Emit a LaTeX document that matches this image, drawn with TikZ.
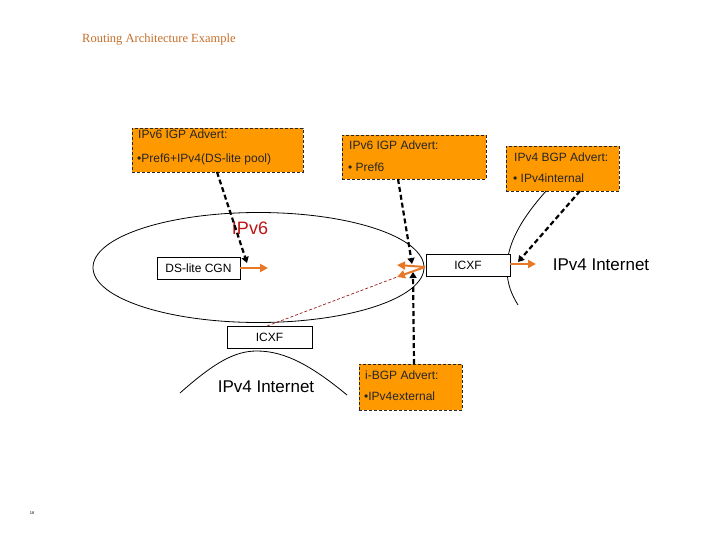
\documentclass[tikz,border=0pt]{standalone}
\usepackage{fontspec}
\setmainfont{Liberation Sans}
\newfontfamily\titlefont{Liberation Serif}
\usetikzlibrary{arrows.meta}
\definecolor{boxorange}{RGB}{255,153,0}
\definecolor{arrorange}{RGB}{230,120,40}
\definecolor{titleorange}{RGB}{196,110,40}
\definecolor{ipvred}{RGB}{190,20,20}
\definecolor{dashred}{RGB}{150,30,30}
\tikzset{
  obox/.style={draw=black!85, dashed, dash pattern=on 3pt off 2pt, line width=0.9pt, fill=boxorange, inner sep=0pt},
  wbox/.style={draw=black, line width=0.8pt, fill=white, inner sep=0pt, font=\fontsize{12}{14}\selectfont},
  btxt/.style={anchor=base west, inner sep=0pt, font=\fontsize{12}{14}\selectfont, text=black!85},
  advert/.style={draw=black, line width=2.2pt, dash pattern=on 5pt off 3pt, -{Triangle[width=7pt,length=6pt]}},
  oarrow/.style={draw=arrorange, line width=2pt, -{Triangle[width=8pt,length=8pt]}},
  thinline/.style={draw=black, line width=0.8pt},
}
\begin{document}
\begin{tikzpicture}[x=1pt,y=-1pt]
\useasboundingbox (0,0) rectangle (720,540);
% title
\node[anchor=west, inner sep=0pt, text=titleorange, font=\titlefont\fontsize{12.5}{14}\selectfont] (title) at (82,40) {Routing Architecture Example};
% domains
\draw[thinline] (258.5,267.5) ellipse [x radius=165.5, y radius=55];
\draw[thinline] (547,190) .. controls (520,220) and (507,245) .. (507,268) .. controls (507,285) and (512,295) .. (518,305);
\draw[thinline] (180,393) .. controls (215,362) and (235,351) .. (257,351) .. controls (285,351) and (312,366) .. (347,395);
% orange advert boxes
\node[obox, minimum width=171pt, minimum height=44pt] (b1) at (217.5,150) {};
\node[btxt] (b1a) at (138,139) {IPv6 IGP Advert:};
\node[btxt] (b1b) at (137,163) {•Pref6+IPv4(DS-lite pool)};
\node[obox, minimum width=144pt, minimum height=44pt] (b2) at (414,157) {};
\node[btxt] (b2a) at (349,150) {IPv6 IGP Advert:};
\node[btxt] (b2b) at (348,172) {• Pref6};
\node[obox, minimum width=113pt, minimum height=45pt] (b3) at (562.5,168.5) {};
\node[btxt] (b3a) at (514,162) {IPv4 BGP Advert:};
\node[btxt] (b3b) at (513,183) {• IPv4internal};
\node[obox, minimum width=103pt, minimum height=46pt] (b4) at (410.5,387) {};
\node[btxt] (b4a) at (365,379) {i-BGP Advert:};
\node[btxt] (b4b) at (364,400) {•IPv4external};
% white boxes
\node[wbox, minimum width=83pt, minimum height=22pt] (cgn) at (198.5,268) {DS-lite CGN};
\node[wbox, minimum width=84pt, minimum height=22pt] (icxf1) at (468,265) {ICXF};
\node[wbox, minimum width=85pt, minimum height=22pt] (icxf2) at (269.5,337) {ICXF};
% labels
\node[inner sep=0pt, text=ipvred, font=\fontsize{18}{20}\selectfont] (ipv6) at (250,228) {IPv6};
\node[inner sep=0pt, font=\fontsize{17}{19}\selectfont] (inet1) at (601,265) {IPv4 Internet};
\node[inner sep=0pt, font=\fontsize{17}{19}\selectfont] (inet2) at (266,387) {IPv4 Internet};
\node[inner sep=0pt, font=\fontsize{4}{4}\selectfont] (pg) at (32,513) {18};
% connector end points
\coordinate (s1) at (217,172);
\coordinate (e1) at (247,263);
\coordinate (s2) at (398,179);
\coordinate (e2) at (412,264);
\coordinate (s3) at (580,191);
\coordinate (e3) at (518,262);
\coordinate (s4) at (414,364);
\coordinate (e4) at (413,272);
\coordinate (o1s) at (240,268);
\coordinate (o1e) at (268,268);
\coordinate (o2s) at (425,267);
\coordinate (o2e) at (397,265);
\coordinate (o3e) at (397,277);
\coordinate (o4s) at (510,264);
\coordinate (o4e) at (536,264);
\coordinate (r1) at (267,326);
% red dashed link
\draw[dashred, line width=0.7pt, dash pattern=on 3pt off 2pt] (r1) -- (o3e);
% black dashed advert arrows
\draw[advert] (s1) -- (e1);
\draw[advert] (s2) -- (e2);
\draw[advert] (s3) -- (e3);
\draw[advert] (s4) -- (e4);
% orange arrows
\draw[oarrow] (o1s) -- (o1e);
\draw[oarrow] (o2s) -- (o2e);
\draw[oarrow] (o2s) -- (o3e);
\draw[oarrow] (o4s) -- (o4e);
\end{tikzpicture}
\end{document}
